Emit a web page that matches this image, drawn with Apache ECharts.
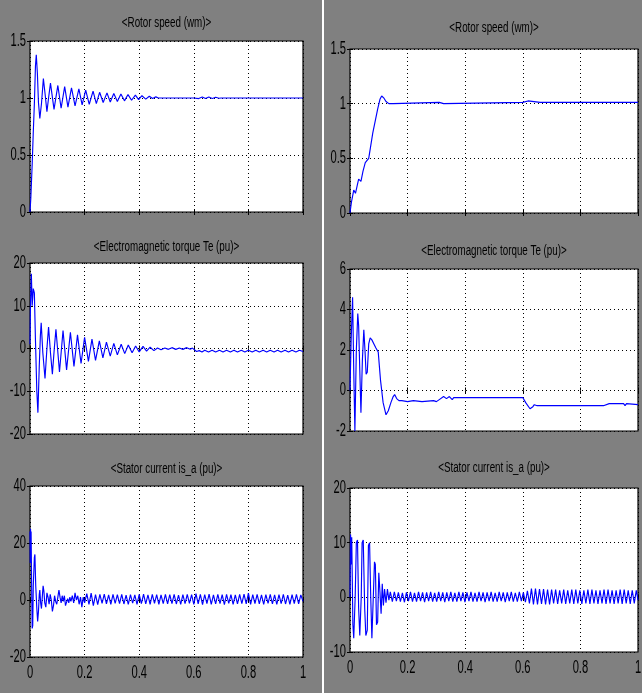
<!DOCTYPE html>
<html>
<head>
<meta charset="utf-8">
<script src="https://cdn.jsdelivr.net/npm/echarts@6/dist/echarts.min.js"></script>
<style>
html,body{margin:0;padding:0;background:#808080;}
#c{width:642px;height:693px;}
</style>
</head>
<body>
<div id="c"></div>
<script>
// ---- DATA ----
const titles = ['<Rotor speed (wm)>', '<Electromagnetic torque Te (pu)>', '<Stator current is_a (pu)>'];
const xTicks = [0, 0.2, 0.4, 0.6, 0.8, 1];
const xTickLabels = ['0', '0.2', '0.4', '0.6', '0.8', '1'];
const yTicksLeft = [[0, 0.5, 1, 1.5], [-20, -10, 0, 10, 20], [-20, 0, 20, 40]];
const yTicksRight = [[0, 0.5, 1, 1.5], [-2, 0, 2, 4, 6], [-10, 0, 10, 20]];
const yTickLabelsLeft = [['0', '0.5', '1', '1.5'], ['-20', '-10', '0', '10', '20'], ['-20', '0', '20', '40']];
const yTickLabelsRight = [['0', '0.5', '1', '1.5'], ['-2', '0', '2', '4', '6'], ['-10', '0', '10', '20']];

const speedLeft = [[0,0],[0.003,0.12],[0.008,0.42],[0.012,0.70],[0.016,0.95],[0.020,1.28],[0.023,1.38],[0.027,1.22],[0.031,0.96],[0.036,0.82],[0.042,0.95],[0.049,1.17],[0.056,1.02],[0.062,0.88],[0.068,1.0],[0.075,1.13],[0.088,0.90],[0.102,1.11],[0.114,0.91],[0.127,1.10],[0.139,0.92],[0.152,1.09],[0.165,0.93],[0.179,1.08],[0.191,0.94],[0.204,1.07],[0.217,0.945],[0.231,1.06],[0.243,0.95],[0.255,1.05],[0.268,0.96],[0.282,1.045],[0.294,0.965],[0.307,1.04],[0.320,0.97],[0.333,1.035],[0.346,0.975],[0.359,1.03],[0.372,0.98],[0.386,1.025],[0.398,0.985],[0.41,1.02],[0.424,0.99],[0.437,1.015],[0.449,0.995],[0.461,1.01],[0.47,1.0],[0.6,1.0],[0.606,1.008],[0.618,0.995],[0.631,1.008],[0.643,0.995],[0.655,1.008],[0.668,0.996],[0.68,1.006],[0.692,0.998],[0.7,1.0],[1.0,1.0]];

const speedRight = [[0,0],[0.005,0.1],[0.013,0.21],[0.019,0.18],[0.024,0.24],[0.030,0.31],[0.038,0.29],[0.045,0.38],[0.053,0.46],[0.065,0.50],[0.079,0.73],[0.096,0.95],[0.104,1.04],[0.110,1.07],[0.118,1.05],[0.125,1.02],[0.135,1.0],[0.15,1.0],[0.156,1.012],[0.31,1.012],[0.315,1.0],[0.325,1.0],[0.33,1.012],[0.6,1.012],[0.605,1.025],[0.618,1.025],[0.624,1.012],[0.66,1.012],[0.665,1.025],[0.67,1.012],[1.0,1.012]];

const torqueLeft = [[0,1],[0.002,11],[0.005,17.5],[0.008,10],[0.012,14],[0.016,13],[0.020,2],[0.025,-10],[0.029,-15],[0.034,-4],[0.038,3],[0.041,6],[0.047,-1],[0.055,-7],[0.062,0],[0.068,5],[0.075,-1],[0.082,-6],[0.089,0],[0.095,4.5],[0.108,-5.5],[0.121,4.2],[0.134,-5],[0.148,3.8],[0.161,-4.2],[0.174,3.2],[0.187,-3.5],[0.2,2.6],[0.214,-3],[0.227,2.2],[0.24,-2.8],[0.254,1.8],[0.267,-2.2],[0.28,1.5],[0.294,-1.8],[0.307,1.2],[0.32,-1.5],[0.334,1.0],[0.347,-1.2],[0.36,0.8],[0.374,-1.0],[0.387,0.6],[0.4,-0.8],[0.414,0.5],[0.427,-0.6],[0.44,0.3],[0.454,-0.5],[0.467,0.1],[0.48,-0.3],[0.494,0.1],[0.507,-0.2],[0.52,0.2],[0.534,-0.2],[0.547,0.1],[0.56,-0.2],[0.574,0.2],[0.587,-0.2],[0.595,0.1],[0.6,-0.3],[0.61,-0.7],[0.62,-0.5],[0.63,-0.8],[0.64,-0.4],[0.654,-0.8],[0.667,-0.4],[0.68,-0.8],[0.694,-0.4],[0.707,-0.8],[0.72,-0.4],[0.734,-0.8],[0.747,-0.4],[0.76,-0.8],[0.774,-0.4],[0.787,-0.8],[0.8,-0.4],[0.814,-0.8],[0.827,-0.4],[0.84,-0.8],[0.854,-0.4],[0.867,-0.8],[0.88,-0.4],[0.894,-0.8],[0.907,-0.4],[0.92,-0.8],[0.934,-0.4],[0.947,-0.8],[0.96,-0.4],[0.974,-0.8],[0.987,-0.4],[1.0,-0.7]];

const torqueRight = [[0,0],[0.004,2.5],[0.009,4.6],[0.013,1],[0.017,-2],[0.022,2],[0.027,3.8],[0.030,3.2],[0.034,1],[0.038,-1.1],[0.043,1.5],[0.048,3.0],[0.052,2],[0.056,0.8],[0.060,0.9],[0.065,2.3],[0.070,2.6],[0.076,2.5],[0.083,2.3],[0.090,2.1],[0.098,1.9],[0.106,0.5],[0.115,-0.6],[0.125,-1.2],[0.133,-1.0],[0.142,-0.6],[0.150,-0.3],[0.155,-0.2],[0.162,-0.4],[0.170,-0.5],[0.18,-0.5],[0.2,-0.55],[0.22,-0.5],[0.25,-0.55],[0.29,-0.5],[0.3,-0.55],[0.31,-0.45],[0.325,-0.3],[0.335,-0.4],[0.345,-0.3],[0.355,-0.45],[0.36,-0.35],[0.6,-0.35],[0.61,-0.6],[0.625,-0.9],[0.635,-0.8],[0.64,-0.7],[0.65,-0.75],[0.88,-0.75],[0.9,-0.65],[0.95,-0.65],[0.955,-0.75],[0.96,-0.65],[1.0,-0.7]];

const currentLeft = [[0,24],[0.001,13],[0.002,25],[0.003,16],[0.004,24],[0.006,5],[0.008,-10],[0.01,-9],[0.012,5],[0.016,15],[0.018,16],[0.021,5],[0.025,-3],[0.028,-7.5],[0.031,-4],[0.034,2],[0.036,3.5],[0.039,-1],[0.042,-3],[0.045,1],[0.048,5],[0.051,3],[0.054,-1],[0.058,-2.5],[0.062,2.5],[0.066,1],[0.07,-1.5],[0.074,2],[0.078,0],[0.082,-4],[0.086,-2],[0.09,1.5],[0.094,-0.5],[0.098,-1.5],[0.102,1],[0.106,3.5],[0.11,1],[0.114,-1],[0.118,1.5],[0.122,-0.5],[0.126,1.5],[0.13,-2],[0.134,-2.5],[0.138,0.5],[0.142,-1],[0.146,1],[0.15,-0.5],[0.155,1.5],[0.16,-1],[0.165,2.5],[0.17,0],[0.175,1.5],[0.18,-1.5],[0.185,1],[0.19,-2.5],[0.195,1],[0.2,-1],
[0.208,2.2],[0.216,-1.5],[0.224,2.4],[0.232,-2.0],[0.24,1.9],[0.248,-1.6],[0.256,2.0],[0.264,-1.2],[0.272,2.1],[0.28,-1.4],[0.288,1.8],[0.296,-1.5],[0.304,2.0],[0.312,-1.2],[0.32,1.9],[0.328,-1.3],[0.336,2.0],[0.344,-1.4],[0.352,1.7],[0.36,-1.5],[0.368,1.9],[0.376,-1.1],[0.384,1.8],[0.392,-1.5],[0.4,2.0],[0.408,-1.3],[0.416,2.1],[0.424,-1.4],[0.432,1.8],[0.44,-1.5],[0.448,2.0],[0.456,-1.2],[0.464,1.9],[0.472,-1.5],[0.48,1.8],[0.488,-1.3],[0.496,2.0],[0.504,-1.4],[0.512,1.9],[0.52,-1.3],[0.528,2.0],[0.536,-1.4],[0.544,1.7],[0.552,-1.5],[0.56,1.9],[0.568,-1.3],[0.576,2.0],[0.584,-1.2],[0.592,1.9],[0.6,-1.5],[0.608,2.2],[0.616,-1.4],[0.624,2.0],[0.632,-1.6],[0.64,1.9],[0.648,-1.3],[0.656,2.1],[0.664,-1.5],[0.672,1.8],[0.68,-1.4],[0.688,2.0],[0.696,-1.3],[0.704,1.9],[0.712,-1.6],[0.72,2.0],[0.728,-1.2],[0.736,1.9],[0.744,-1.5],[0.752,1.8],[0.76,-1.4],[0.768,2.0],[0.776,-1.3],[0.784,2.1],[0.792,-1.4],[0.8,2.4],[0.808,-1.5],[0.816,1.9],[0.824,-1.3],[0.832,2.0],[0.84,-1.4],[0.848,1.8],[0.856,-1.5],[0.864,1.9],[0.872,-1.2],[0.88,2.0],[0.888,-1.4],[0.896,1.8],[0.904,-1.5],[0.912,1.9],[0.92,-1.3],[0.928,2.0],[0.936,-1.4],[0.944,1.7],[0.952,-1.5],[0.96,1.9],[0.968,-1.3],[0.976,2.0],[0.984,-1.4],[0.992,1.8],[1.0,-0.5]];

const currentRight = [[0,0],[0.002,11.5],[0.004,6],[0.006,11],[0.01,-5],[0.013,-7.5],[0.018,0],[0.022,10],[0.026,10.5],[0.03,-2],[0.034,-7],[0.039,0],[0.042,10],[0.046,10.5],[0.051,-2],[0.055,-7],[0.06,-6],[0.064,9.5],[0.068,10],[0.072,0],[0.076,-7.5],[0.08,-7.8],[0.085,6.5],[0.088,6],[0.092,-5],[0.096,-4.5],[0.1,4.5],[0.104,1],[0.108,-3],[0.112,2.5],[0.116,-1.5],[0.12,1.5],[0.125,-1],[0.13,1.5],[0.135,-0.5],
[0.140,1.0],[0.147,-0.8],[0.154,1.0],[0.161,-0.7],[0.168,0.9],[0.175,-0.8],[0.182,0.8],[0.189,-0.9],[0.196,0.9],[0.203,-0.7],[0.21,1.0],[0.217,-0.8],[0.224,0.8],[0.231,-0.8],[0.238,1.0],[0.245,-0.7],[0.252,0.9],[0.259,-0.9],[0.266,0.9],[0.273,-0.7],[0.28,1.0],[0.287,-0.8],[0.294,0.8],[0.301,-0.8],[0.308,1.0],[0.315,-0.7],[0.322,0.9],[0.329,-0.9],[0.336,0.9],[0.343,-0.7],[0.35,1.0],[0.357,-0.8],[0.364,0.8],[0.371,-0.8],[0.378,1.0],[0.385,-0.7],[0.392,0.9],[0.399,-0.9],[0.406,0.9],[0.413,-0.7],[0.42,1.0],[0.427,-0.8],[0.434,0.8],[0.441,-0.8],[0.448,1.0],[0.455,-0.7],[0.462,0.9],[0.469,-0.9],[0.476,0.9],[0.483,-0.7],[0.49,1.0],[0.497,-0.8],[0.504,0.8],[0.511,-0.8],[0.518,1.0],[0.525,-0.7],[0.532,0.9],[0.539,-0.9],[0.546,0.9],[0.553,-0.7],[0.56,1.0],[0.567,-0.8],[0.574,0.8],[0.581,-0.8],[0.588,1.0],[0.595,-0.7],[0.602,0.9],[0.609,-0.9],[0.616,1.2],[0.623,-1.1],[0.63,1.6],[0.637,-1.3],[0.644,1.6],[0.651,-1.3],[0.658,1.5],[0.665,-1.2],[0.672,1.5],[0.679,-1.3],[0.686,1.4],[0.693,-1.3],[0.7,1.4],[0.707,-1.1],[0.714,1.4],[0.721,-1.2],[0.728,1.3],[0.735,-1.1],[0.742,1.4],[0.749,-1.2],[0.756,1.3],[0.763,-1.1],[0.77,1.4],[0.777,-1.2],[0.784,1.4],[0.791,-1.1],[0.798,1.3],[0.805,-1.2],[0.812,1.3],[0.819,-1.1],[0.826,1.4],[0.833,-1.2],[0.84,1.4],[0.847,-1.1],[0.854,1.3],[0.861,-1.2],[0.868,1.3],[0.875,-1.1],[0.882,1.4],[0.889,-1.2],[0.896,1.4],[0.903,-1.1],[0.91,1.3],[0.917,-1.2],[0.924,1.3],[0.931,-1.1],[0.938,1.4],[0.945,-1.2],[0.952,1.4],[0.959,-1.1],[0.966,1.3],[0.973,-1.2],[0.98,1.3],[0.987,-1.1],[0.994,1.3],[1.0,-0.5]];

// ---- LAYOUT / STYLE ----
const FONT = "'Liberation Sans', Arial, sans-serif";
const gridBoxes = [
  {left:30, top:41, width:273, height:171},
  {left:30, top:263, width:273, height:171},
  {left:30, top:486, width:273, height:171},
  {left:350, top:49, width:288, height:164},
  {left:350, top:269, width:288, height:162},
  {left:350, top:488, width:288, height:164}
];
const titleCenters = [23, 247, 469, 28, 251, 468];
const seriesData = [speedLeft, torqueLeft, currentLeft, speedRight, torqueRight, currentRight];
const yTicks = yTicksLeft.concat(yTicksRight);
const yTickLabels = yTickLabelsLeft.concat(yTickLabelsRight);

const dotted = {color:'#000', type:[1,3], width:1};
const tick = {show:true, inside:true, length:3, lineStyle:{color:'#000'}};
const grid = [], xAxis = [], yAxis = [], series = [];
gridBoxes.forEach((g, i) => {
  grid.push(Object.assign({show:true, backgroundColor:'#fff', borderColor:'#000', borderWidth:1.2}, g));
  const yt = yTicks[i];
  xAxis.push({
    type:'value', gridIndex:i, position:'bottom', min:xTicks[0], max:xTicks[xTicks.length-1], interval:0.2,
    axisLine:{show:false}, axisTick:tick, splitLine:{show:true, lineStyle:dotted}, axisLabel:{show:false}
  });
  yAxis.push({
    type:'value', gridIndex:i, position:'left', min:yt[0], max:yt[yt.length-1], interval:yt[1]-yt[0],
    axisLine:{show:false}, axisTick:tick, splitLine:{show:true, lineStyle:dotted}, axisLabel:{show:false}
  });
  series.push({
    type:'line', xAxisIndex:i, yAxisIndex:i, data:seriesData[i],
    showSymbol:false, symbol:'none', clip:true,
    lineStyle:{color:'#0000ff', width:1.15}
  });
});
// mirrored axes for ticks on top/right
gridBoxes.forEach((g, i) => {
  const yt = yTicks[i];
  xAxis.push({type:'value', gridIndex:i, position:'top', min:xTicks[0], max:xTicks[xTicks.length-1], interval:0.2,
    axisLine:{show:false}, axisTick:tick, splitLine:{show:false}, axisLabel:{show:false}});
  yAxis.push({type:'value', gridIndex:i, position:'right', min:yt[0], max:yt[yt.length-1], interval:yt[1]-yt[0],
    axisLine:{show:false}, axisTick:tick, splitLine:{show:false}, axisLabel:{show:false}});
});

const chart = echarts.init(document.getElementById('c'), null, {renderer:'canvas'});
chart.setOption({
  backgroundColor:'#808080',
  animation:false,
  grid, xAxis, yAxis, series
});

// texts (titles and tick labels), placed through the axes' own scales, condensed horizontally
const graphic = [{type:'rect', shape:{x:322, y:0, width:2, height:693}, style:{fill:'#fff'}, z:100}];
const LABEL_SX = 0.62, TITLE_SX = 0.70;
gridBoxes.forEach((g, i) => {
  const isBottom = (i % 3) === 2;
  graphic.push({type:'text', x:g.left + g.width/2, y:titleCenters[i], scaleX:TITLE_SX, z:100,
    style:{text:titles[i % 3], fill:'#000', font:'14px ' + FONT, align:'center', verticalAlign:'middle'}});
  yTicks[i].forEach((v, k) => {
    const py = chart.convertToPixel({yAxisIndex:i}, v);
    graphic.push({type:'text', x:g.left - 4, y:py, scaleX:LABEL_SX, z:100,
      style:{text:yTickLabels[i][k], fill:'#000', font:'18px ' + FONT, align:'right', verticalAlign:'middle'}});
  });
  if (isBottom) {
    xTicks.forEach((v, k) => {
      const px = chart.convertToPixel({xAxisIndex:i}, v);
      graphic.push({type:'text', x:px, y:g.top + g.height + 16, scaleX:LABEL_SX, z:100,
        style:{text:xTickLabels[k], fill:'#000', font:'18px ' + FONT, align:'center', verticalAlign:'middle'}});
    });
  }
});
chart.setOption({graphic});
</script>
</body>
</html>
